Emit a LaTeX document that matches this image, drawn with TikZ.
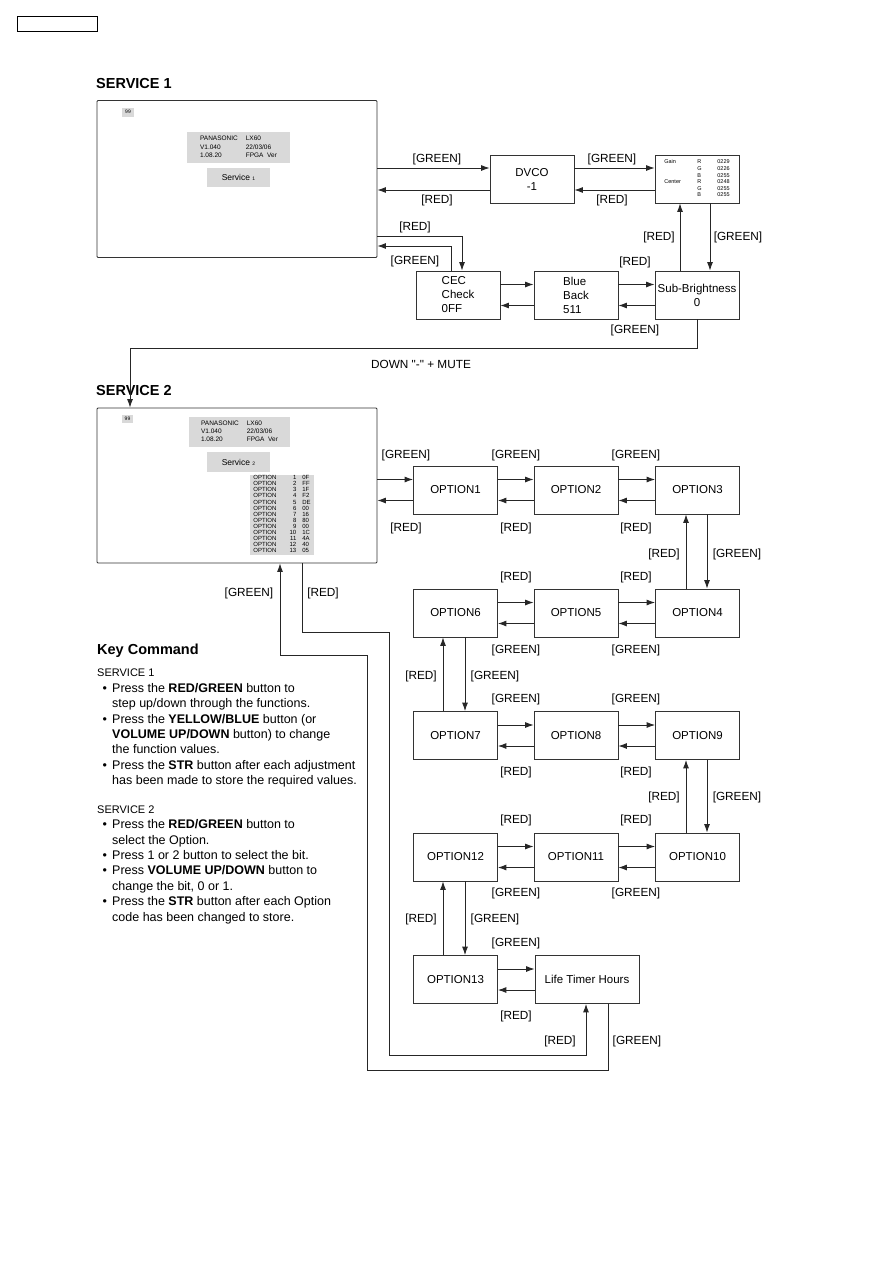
\documentclass[tikz,border=0pt]{standalone}
\usepackage{fontspec}
\setmainfont{Liberation Sans}
\usetikzlibrary{arrows.meta}

\newcommand{\keybul}{\makebox[15pt][l]{\hspace*{5.5pt}\textbullet}}
\newcommand{\keyind}{\hspace*{15pt}}

\tikzset{
  box/.style={draw=black!80, line width=0.8pt, minimum width=84pt, minimum height=48pt, inner sep=1pt, align=center, font=\fontsize{11.5}{14}\selectfont},
  screen/.style={draw=black!80, line width=0.8pt, rounded corners=1pt, inner sep=0pt},
  lcd/.style={fill=black!15, inner sep=0pt},
  lbl/.style={font=\fontsize{11.8}{14}\selectfont, inner sep=0pt},
  head/.style={font=\fontsize{14.5}{17}\selectfont\bfseries, inner sep=0pt},
  arr/.style={draw=black!85, line width=0.9pt, -{Latex[length=8.5pt,width=6pt]}},
}

\begin{document}
\begin{tikzpicture}[x=1pt,y=-1pt]
\useasboundingbox (0,0) rectangle (893,1263);
\node[draw, line width=0.8pt, minimum width=80pt, minimum height=15pt, inner sep=0pt, anchor=north west] (hdr) at (17,16) {};

\node[head, anchor=west] (svc1) at (96,84) {SERVICE 1};
\node[screen, minimum width=280pt, minimum height=157pt] (s1) at (237,179) {};
\node[lcd, minimum width=12pt, minimum height=9pt, font=\fontsize{5}{6}\selectfont] (ch1) at (128,112) {99};
\node[lcd, minimum width=103pt, minimum height=31pt, font=\fontsize{6.5}{8.3}\selectfont] (ver1) at (238.5,147.5)
  {\begin{tabular}{@{}l@{\hspace{8pt}}l@{}}PANASONIC & LX60\\ V1.040 & 22/03/06\\ 1.08.20 & FPGA\ \ Ver\end{tabular}};
\node[lcd, minimum width=63pt, minimum height=19pt, font=\fontsize{8.5}{10}\selectfont] (mode1) at (238.5,177.5) {Service {\fontsize{5}{6}\selectfont 1}};

\node[box] (dvco) at (532,179) {DVCO\\-1};
\node[box, font=\fontsize{5.5}{6.6}\selectfont] (gain) at (697,179)
  {\begin{tabular}{@{}p{33pt}@{}p{20pt}@{}l@{}}Gain & R & 0229\\ & G & 0226\\ & B & 0255\\ Center & R & 0248\\ & G & 0255\\ & B & 0255\end{tabular}};
\node[box, align=left] (cec) at (458,295) {CEC\\Check\\0FF};
\node[box, align=left] (blue) at (576,295) {Blue\\Back\\511};
\node[box] (sub) at (697,295) {Sub-Brightness\\0};

\draw[arr] ([yshift=11pt]dvco.west -| s1.east) -- ([yshift=11pt]dvco.west);
\draw[arr] ([yshift=-11pt]dvco.west) -- ([yshift=-11pt]dvco.west -| s1.east);
\draw[arr] ([yshift=11pt]dvco.east) -- ([yshift=11pt]gain.west);
\draw[arr] ([yshift=-11pt]gain.west) -- ([yshift=-11pt]dvco.east);
\draw[arr] ([xshift=-17pt]sub.north) -- ([xshift=-17pt]gain.south);
\draw[arr] ([xshift=13pt]gain.south) -- ([xshift=13pt]sub.north);
\draw[arr] ([yshift=10.5pt]cec.east) -- ([yshift=10.5pt]blue.west);
\draw[arr] ([yshift=-10.5pt]blue.west) -- ([yshift=-10.5pt]cec.east);
\draw[arr] ([yshift=10.5pt]blue.east) -- ([yshift=10.5pt]sub.west);
\draw[arr] ([yshift=-10.5pt]sub.west) -- ([yshift=-10.5pt]blue.east);
\coordinate (redknee) at (462,236);
\coordinate (grnknee) at (451,246);
\draw[arr] (redknee -| s1.east) -- (redknee) -- (redknee |- cec.north);
\draw[arr] (grnknee |- cec.north) -- (grnknee) -- (grnknee -| s1.east);
\coordinate (downknee) at (130,348);

\node[lbl] (l01) at (437,159) {[GREEN]};
\node[lbl] (l02) at (437,200) {[RED]};
\node[lbl] (l03) at (612,159) {[GREEN]};
\node[lbl] (l04) at (612,200) {[RED]};
\node[lbl] (l05) at (415,227) {[RED]};
\node[lbl] (l06) at (415,261) {[GREEN]};
\node[lbl] (l07) at (659,237) {[RED]};
\node[lbl] (l08) at (738,237) {[GREEN]};
\node[lbl] (l09) at (635,262) {[RED]};
\node[lbl] (l10) at (635,330) {[GREEN]};

\node[head, anchor=west] (svc2) at (96,391) {SERVICE 2};
\node[screen, minimum width=280pt, minimum height=155pt] (s2) at (237,485.5) {};
\draw[arr] (sub.south) |- (downknee) -- (downknee |- s2.north);
\node[lbl] (mute) at (421,364) {DOWN {\addfontfeatures{Ligatures=TeXOff}"-"} + MUTE};
\node[lcd, minimum width=11pt, minimum height=8pt, font=\fontsize{5}{6}\selectfont] (ch2) at (127.5,418.5) {99};
\node[lcd, minimum width=101pt, minimum height=30pt, font=\fontsize{6.5}{8.3}\selectfont] (ver2) at (239.5,432)
  {\begin{tabular}{@{}l@{\hspace{8pt}}l@{}}PANASONIC & LX60\\ V1.040 & 22/03/06\\ 1.08.20 & FPGA\ \ Ver\end{tabular}};
\node[lcd, minimum width=63pt, minimum height=20pt, font=\fontsize{8.5}{10}\selectfont] (mode2) at (238.5,462) {Service {\fontsize{5}{6}\selectfont 2}};
\node[lcd, minimum width=64pt, minimum height=80pt, font=\fontsize{6}{6.1}\selectfont] (optlist) at (282,515)
  {\begin{tabular}{@{}p{31pt}@{}l@{\hspace{6pt}}l@{}}
  OPTION & \makebox[12pt][r]{1} & 0F\\ OPTION & \makebox[12pt][r]{2} & FF\\
  OPTION & \makebox[12pt][r]{3} & 1F\\ OPTION & \makebox[12pt][r]{4} & F2\\
  OPTION & \makebox[12pt][r]{5} & DE\\ OPTION & \makebox[12pt][r]{6} & 00\\
  OPTION & \makebox[12pt][r]{7} & 16\\ OPTION & \makebox[12pt][r]{8} & 80\\
  OPTION & \makebox[12pt][r]{9} & 00\\ OPTION & \makebox[12pt][r]{10} & 1C\\
  OPTION & \makebox[12pt][r]{11} & 4A\\ OPTION & \makebox[12pt][r]{12} & 40\\
  OPTION & \makebox[12pt][r]{13} & 05\end{tabular}};

\node[box] (o1) at (455.5,490) {OPTION1};
\node[box] (o2) at (576,490) {OPTION2};
\node[box] (o3) at (697.5,490) {OPTION3};
\node[box] (o6) at (455.5,613) {OPTION6};
\node[box] (o5) at (576,613) {OPTION5};
\node[box] (o4) at (697.5,613) {OPTION4};
\node[box] (o7) at (455.5,735.5) {OPTION7};
\node[box] (o8) at (576,735.5) {OPTION8};
\node[box] (o9) at (697.5,735.5) {OPTION9};
\node[box] (o12) at (455.5,857) {OPTION12};
\node[box] (o11) at (576,857) {OPTION11};
\node[box] (o10) at (697.5,857) {OPTION10};
\node[box] (o13) at (455.5,979.5) {OPTION13};
\node[box, minimum width=104pt] (life) at (587,979.5) {Life Timer Hours};

\draw[arr] ([yshift=10.5pt]o1.west -| s2.east) -- ([yshift=10.5pt]o1.west);
\draw[arr] ([yshift=-10.5pt]o1.west) -- ([yshift=-10.5pt]o1.west -| s2.east);
\draw[arr] ([yshift=10.5pt]o1.east) -- ([yshift=10.5pt]o2.west);
\draw[arr] ([yshift=-10.5pt]o2.west) -- ([yshift=-10.5pt]o1.east);
\draw[arr] ([yshift=10.5pt]o2.east) -- ([yshift=10.5pt]o3.west);
\draw[arr] ([yshift=-10.5pt]o3.west) -- ([yshift=-10.5pt]o2.east);
\draw[arr] ([xshift=-11.5pt]o4.north) -- ([xshift=-11.5pt]o3.south);
\draw[arr] ([xshift=9.5pt]o3.south) -- ([xshift=9.5pt]o4.north);
\draw[arr] ([yshift=10.5pt]o6.east) -- ([yshift=10.5pt]o5.west);
\draw[arr] ([yshift=-10.5pt]o5.west) -- ([yshift=-10.5pt]o6.east);
\draw[arr] ([yshift=10.5pt]o5.east) -- ([yshift=10.5pt]o4.west);
\draw[arr] ([yshift=-10.5pt]o4.west) -- ([yshift=-10.5pt]o5.east);
\draw[arr] ([xshift=-12.5pt]o7.north) -- ([xshift=-12.5pt]o6.south);
\draw[arr] ([xshift=9.5pt]o6.south) -- ([xshift=9.5pt]o7.north);
\draw[arr] ([yshift=10.5pt]o7.east) -- ([yshift=10.5pt]o8.west);
\draw[arr] ([yshift=-10.5pt]o8.west) -- ([yshift=-10.5pt]o7.east);
\draw[arr] ([yshift=10.5pt]o8.east) -- ([yshift=10.5pt]o9.west);
\draw[arr] ([yshift=-10.5pt]o9.west) -- ([yshift=-10.5pt]o8.east);
\draw[arr] ([xshift=-11.5pt]o10.north) -- ([xshift=-11.5pt]o9.south);
\draw[arr] ([xshift=9.5pt]o9.south) -- ([xshift=9.5pt]o10.north);
\draw[arr] ([yshift=10.5pt]o12.east) -- ([yshift=10.5pt]o11.west);
\draw[arr] ([yshift=-10.5pt]o11.west) -- ([yshift=-10.5pt]o12.east);
\draw[arr] ([yshift=10.5pt]o11.east) -- ([yshift=10.5pt]o10.west);
\draw[arr] ([yshift=-10.5pt]o10.west) -- ([yshift=-10.5pt]o11.east);
\draw[arr] ([xshift=-12.5pt]o13.north) -- ([xshift=-12.5pt]o12.south);
\draw[arr] ([xshift=9.5pt]o12.south) -- ([xshift=9.5pt]o13.north);
\draw[arr] ([yshift=10.5pt]o13.east) -- ([yshift=10.5pt]life.west);
\draw[arr] ([yshift=-10.5pt]life.west) -- ([yshift=-10.5pt]o13.east);

\coordinate (grnloop) at (280,655);
\coordinate (grnfoot) at (367,1070);
\coordinate (redloop) at (302,632);
\coordinate (redfoot) at (389,1055);
\draw[arr] ([xshift=21pt]life.south) |- (grnfoot) |- (grnloop) -- (grnloop |- s2.south);
\draw[arr] (redloop |- s2.south) -- (redloop) -| (redfoot) -| ([xshift=-1pt]life.south);

\node[lbl] (l11) at (406,455) {[GREEN]};
\node[lbl] (l12) at (406,528) {[RED]};
\node[lbl] (l13) at (516,455) {[GREEN]};
\node[lbl] (l14) at (516,528) {[RED]};
\node[lbl] (l15) at (636,455) {[GREEN]};
\node[lbl] (l16) at (636,528) {[RED]};
\node[lbl] (l17) at (664,554) {[RED]};
\node[lbl] (l18) at (737,554) {[GREEN]};
\node[lbl] (l19) at (516,577) {[RED]};
\node[lbl] (l20) at (636,577) {[RED]};
\node[lbl] (l21) at (516,650) {[GREEN]};
\node[lbl] (l22) at (636,650) {[GREEN]};
\node[lbl] (l23) at (421,676) {[RED]};
\node[lbl] (l24) at (495,676) {[GREEN]};
\node[lbl] (l25) at (516,699) {[GREEN]};
\node[lbl] (l26) at (636,699) {[GREEN]};
\node[lbl] (l27) at (516,772) {[RED]};
\node[lbl] (l28) at (636,772) {[RED]};
\node[lbl] (l29) at (664,797) {[RED]};
\node[lbl] (l30) at (737,797) {[GREEN]};
\node[lbl] (l31) at (516,820) {[RED]};
\node[lbl] (l32) at (636,820) {[RED]};
\node[lbl] (l33) at (516,893) {[GREEN]};
\node[lbl] (l34) at (636,893) {[GREEN]};
\node[lbl] (l35) at (421,919) {[RED]};
\node[lbl] (l36) at (495,919) {[GREEN]};
\node[lbl] (l37) at (516,943) {[GREEN]};
\node[lbl] (l38) at (516,1016) {[RED]};
\node[lbl] (l39) at (249,593) {[GREEN]};
\node[lbl] (l40) at (323,593) {[RED]};
\node[lbl] (l41) at (560,1041) {[RED]};
\node[lbl] (l42) at (637,1041) {[GREEN]};

\node[head, anchor=west] (keyhead) at (97,651) {Key Command};
\node[anchor=north west, inner sep=0pt, align=left, font=\fontsize{12.5}{15.4}\selectfont] (keybody) at (97,669) {%
{\fontsize{11}{15.4}\selectfont SERVICE 1}\\
\keybul Press the \textbf{RED/GREEN} button to\\
\keyind step up/down through the functions.\\
\keybul Press the \textbf{YELLOW/BLUE} button (or\\
\keyind\textbf{VOLUME UP/DOWN} button) to change\\
\keyind the function values.\\
\keybul Press the \textbf{STR} button after each adjustment\\
\keyind has been made to store the required values.\\[13.2pt]
{\fontsize{11}{15.4}\selectfont SERVICE 2}\\
\keybul Press the \textbf{RED/GREEN} button to\\
\keyind select the Option.\\
\keybul Press 1 or 2 button to select the bit.\\
\keybul Press \textbf{VOLUME UP/DOWN} button to\\
\keyind change the bit, 0 or 1.\\
\keybul Press the \textbf{STR} button after each Option\\
\keyind code has been changed to store.};
\end{tikzpicture}
\end{document}
